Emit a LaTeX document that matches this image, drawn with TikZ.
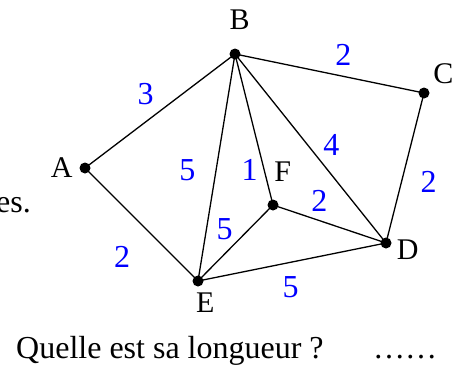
\documentclass[tikz,border=0pt]{standalone}
\usepackage{fontspec}
\setmainfont{Liberation Serif}
\usepackage{tikz}
\usetikzlibrary{positioning}

\begin{document}
\begin{tikzpicture}[x=1pt,y=-1pt,
  vertex/.style={circle,fill=black,inner sep=0pt,minimum size=11pt},
  vname/.style={inner sep=0pt,font=\fontsize{30}{34}\selectfont},
  weight/.style={inner sep=0pt,text=blue,font=\fontsize{32}{36}\selectfont},
  txt/.style={inner sep=0pt,font=\fontsize{32}{36}\selectfont},
  arete/.style={line width=1.3pt}
]
  \useasboundingbox (0,0) rectangle (468,367);
  % sommets
  \node[vertex] (A) at (85,168) {};
  \node[vertex] (B) at (235,54) {};
  \node[vertex] (C) at (424,93) {};
  \node[vertex] (D) at (386,243) {};
  \node[vertex] (E) at (198,281) {};
  \node[vertex] (F) at (273,205) {};
  % aretes
  \draw[arete] (A.center) -- (B.center);
  \draw[arete] (A.center) -- (E.center);
  \draw[arete] (B.center) -- (C.center);
  \draw[arete] (B.center) -- (E.center);
  \draw[arete] (B.center) -- (F.center);
  \draw[arete] (B.center) -- (D.center);
  \draw[arete] (C.center) -- (D.center);
  \draw[arete] (F.center) -- (D.center);
  \draw[arete] (E.center) -- (F.center);
  \draw[arete] (E.center) -- (D.center);
  % noms
  \node[vname] (nA) at (61.7,168) {A};
  \node[vname] (nB) at (239.7,20) {B};
  \node[vname] (nC) at (443.3,73.7) {C};
  \node[vname] (nD) at (407.7,250) {D};
  \node[vname] (nE) at (205.3,303) {E};
  \node[vname] (nF) at (282.7,172) {F};
  % poids
  \node[weight] (wAB) at (145.7,93.7) {3};
  \node[weight] (wBC) at (343.3,54.7) {2};
  \node[weight] (wBD) at (331.3,145.3) {4};
  \node[weight] (wCD) at (428.7,181.7) {2};
  \node[weight] (wBE) at (187.3,169.7) {5};
  \node[weight] (wBF) at (249.7,169.7) {1};
  \node[weight] (wFD) at (319.3,201) {2};
  \node[weight] (wEF) at (224.7,229.3) {5};
  \node[weight] (wAE) at (122,257) {2};
  \node[weight] (wED) at (290.7,287) {5};
  % texte
  \node[txt,anchor=base east] (bout) at (31,212) {es.};
  \node[txt,anchor=base west] (question) at (16,358) {Quelle est sa longueur ?};
  \node[txt,anchor=base west] (points) at (373,358) {……};
\end{tikzpicture}
\end{document}
